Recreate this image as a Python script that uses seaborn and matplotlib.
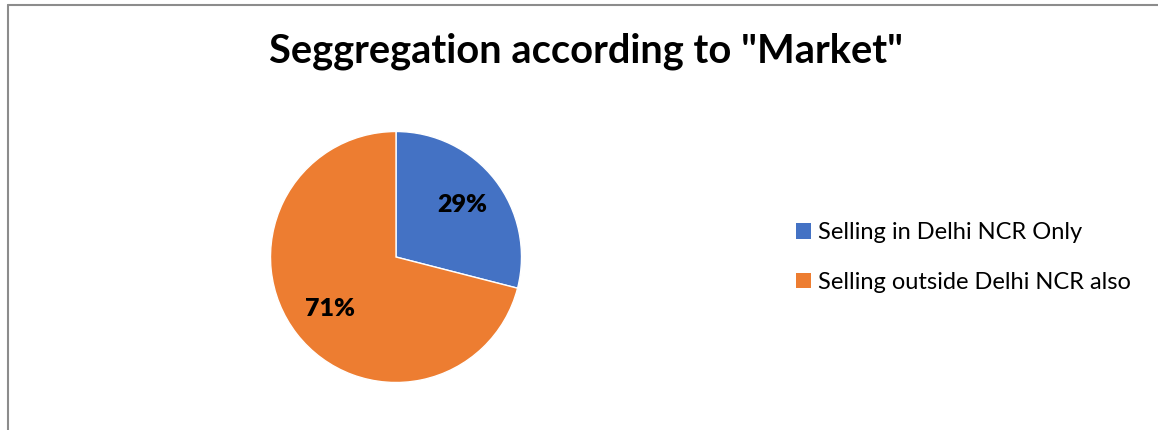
import matplotlib
matplotlib.use("Agg")
import matplotlib.pyplot as plt
from matplotlib.patches import Patch
from matplotlib.lines import Line2D
import seaborn as sns

categories = ["Selling in Delhi NCR Only", "Selling outside Delhi NCR also"]
values = [29, 71]
colors = ["#4472C4", "#ED7D31"]
title = 'Seggregation according to "Market"'

sns.set_theme(style="white")
plt.rcParams["font.family"] = ["Lato", "DejaVu Sans"]
plt.rcParams["text.color"] = "black"

W, H = 1158, 430
fig = plt.figure(figsize=(W / 100, H / 100), dpi=100)
fig.patch.set_facecolor("white")

cx, cy, r = 396, 257, 125.5
half = 1.25 * r
ax = fig.add_axes([(cx - half) / W, (H - cy - half) / H, 2 * half / W, 2 * half / H])
wedges, texts, autotexts = ax.pie(
    values, colors=colors, startangle=90, counterclock=False,
    autopct=lambda p: f"{p:.0f}%", pctdistance=0.67,
    wedgeprops=dict(edgecolor="white", linewidth=1),
    textprops=dict(fontsize=18, fontweight="heavy", color="black"),
)
ax.set_aspect("equal")

fig.text(586 / W, 1 - 51 / H, title, ha="center", va="center",
         fontsize=28.7, fontweight="bold", color="black")

handles = [Patch(facecolor=c, edgecolor="none") for c in colors]
leg = fig.legend(handles, categories, loc="center left",
                 bbox_to_anchor=(796 / W, 1 - 257.4 / H), frameon=False,
                 borderpad=0, borderaxespad=0, handlelength=0.65, handleheight=0.65,
                 handletextpad=0.3, labelspacing=1.22, fontsize=17)
for t in leg.get_texts():
    t.set_color("black")

gray = "#8c8c8c"
fig.add_artist(Line2D([8 / W, 1], [1 - 5 / H, 1 - 5 / H], color=gray, lw=1.5,
                      transform=fig.transFigure))
fig.add_artist(Line2D([8 / W, 8 / W], [0, 1 - 5 / H], color=gray, lw=1.5,
                      transform=fig.transFigure))

fig.savefig("out.png", dpi=100, facecolor="white")
